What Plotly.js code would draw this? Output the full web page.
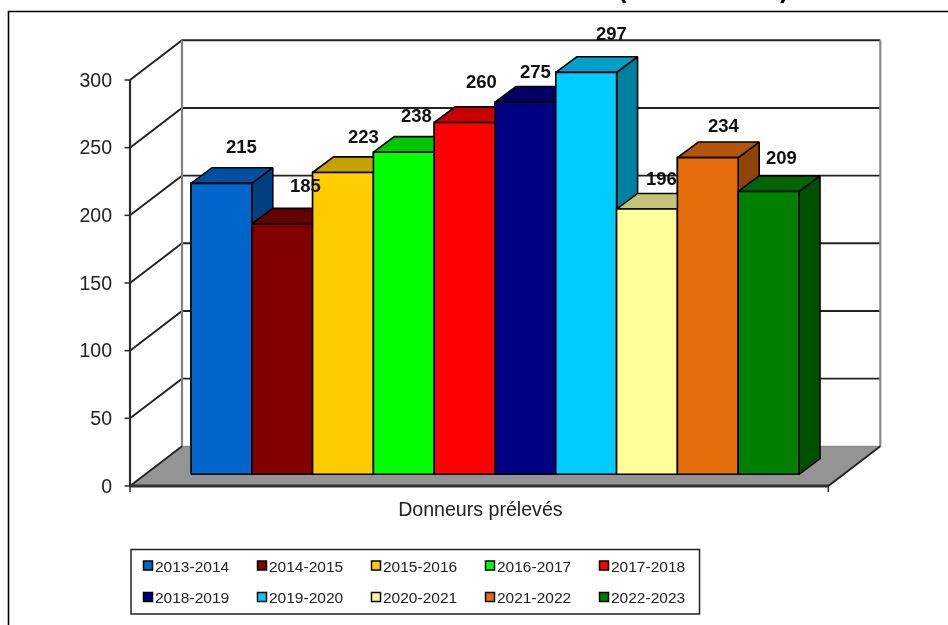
<!DOCTYPE html>
<html><head><meta charset="utf-8">
<script src="https://cdn.plot.ly/plotly-3.0.1.min.js"></script>
<style>html,body{margin:0;padding:0;background:#fff;overflow:hidden}#chart{filter:blur(0.35px)}</style>
</head><body><div id="chart" style="width:948px;height:625px"></div>
<script>
const seasons = ['2013-2014','2014-2015','2015-2016','2016-2017','2017-2018','2018-2019','2019-2020','2020-2021','2021-2022','2022-2023'];
const values = [215,185,223,238,260,275,297,196,234,209];
const frontColors = ['#0066CC','#800000','#FFCC00','#00FF00','#FF0000','#000080','#00CCFF','#FFFF99','#E46C0A','#008000'];
const topColors = ['#00509F','#640000','#C8A000','#00C800','#C80000','#000064','#00A0C8','#C4C478','#B25508','#006400'];
const sideColors = ['#003F80','#500000','#A08000','#00A000','#A00000','#000050','#0080A0','#A0A060','#8F4406','#005000'];
const yTicks = [0,50,100,150,200,250,300];
const categoryLabel = 'Donneurs prélevés';
const labelOffsets = [[20,-36.5],[23,-38.5],[20,-36.5],[13,-36.5],[17,-40.5],[10,-30.5],[25,-38.5],[14,-30.5],[16,-32.5],[13,-33.5]];

// Layout geometry: the plot area is a little larger than the drawn box, as lines clip to it
const L=122, R=886, T=35, B=494, W=948, H=625;
const ux=60.8, uy=406/300;
const xpx=p=>(p-191)/ux, ypx=p=>(486-p)/uy;
const px=p=>(p-L)/(R-L), py=p=>(B-p)/(B-T);
const xL=xpx(130), xFR=xpx(828.3), backX=52/ux, backY=39.7/uy;
const baseY=11.7/uy, barDX=21/ux, barDY=15.6/uy;

const poly=(xs,ys,fill,lc,lw)=>({type:'scatter',mode:'lines',x:xs,y:ys,fill:'toself',fillcolor:fill,
  line:{color:lc,width:lw},showlegend:false,hoverinfo:'skip',cliponaxis:false});
const line=(xs,ys,lc,lw)=>({type:'scatter',mode:'lines',x:xs,y:ys,line:{color:lc,width:lw},
  showlegend:false,hoverinfo:'skip',cliponaxis:false});

const traces=[];
// real bars carry the values and legend entries
seasons.forEach((s,i)=>traces.push({type:'bar',name:s,x:[i+0.5],y:[values[i]],base:[baseY],width:[1],
  marker:{color:frontColors[i],line:{color:'#000',width:1.5}},hoverinfo:'skip',legend:i<5?'legend':'legend2'}));
// gridlines and walls
yTicks.forEach(v=>{ if(v>0) traces.push(line([xL,xL+backX,xFR+backX],[v,v+backY,v+backY],'#222',1.9)); });
traces.push(line([xL+backX,xL+backX],[backY,300+backY],'#808080',2.2));
traces.push(line([xFR+backX,xFR+backX],[backY,300+backY],'#8c8c8c',2.2));
// floor
traces.push(poly([xL,xFR,xFR+backX,xL+backX,xL],[0,0,backY,backY,0],'#949494','rgba(0,0,0,0)',0));
traces.push(line([xL+backX,xFR+backX],[backY,backY],'#808080',1));
traces.push(line([xL+backX,xL,xFR,xFR+backX],[backY,0,0,backY],'#222',1.8));
traces.push(line([xL,xFR],[0,0],'#333',3));
traces.push(line([xL,xL],[0,300],'#2a2a2a',2.2));
traces.push(line([xL,xL],[0,-6/uy],'#2a2a2a',1.5));
traces.push(line([xFR,xFR],[0,-6/uy],'#2a2a2a',1.5));
yTicks.forEach(v=>traces.push(line([xpx(124.5),xL],[v,v],'#2a2a2a',1.5)));
// bars, left to right
values.forEach((v,i)=>{
  const x0=i, x1=i+1, y0=baseY, y1=baseY+v;
  traces.push(poly([x1,x1+barDX,x1+barDX,x1,x1],[y0,y0+barDY,y1+barDY,y1,y0],sideColors[i],'#000',1.6));
  traces.push(poly([x0,x1,x1+barDX,x0+barDX,x0],[y1,y1,y1+barDY,y1+barDY,y1],topColors[i],'#000',1.6));
  traces.push(poly([x0,x1,x1,x0,x0],[y0,y0,y1,y1,y0],frontColors[i],'#000',1.6));
});

const annotations=values.map((v,i)=>({x:i+0.5,y:baseY+v,xref:'x',yref:'y',text:String(v),showarrow:false,
  xshift:labelOffsets[i][0],yshift:-labelOffsets[i][1],
  font:{family:'Liberation Sans',size:18.5,color:'#111',weight:700}}));
// title tails cut off by the page top
[['(',622],[')',791]].forEach(a=>annotations.push({x:px(a[1]),y:py(-27.5),xref:'paper',yref:'paper',text:a[0],showarrow:false,
  font:{family:'Liberation Sans',size:26,color:'#000',weight:700}}));

const shapes=[
 {type:'rect',xref:'paper',yref:'paper',x0:px(8.5),x1:px(970),y0:py(11.5),y1:py(650),line:{color:'#000',width:1.6},layer:'below'},
 {type:'rect',xref:'paper',yref:'paper',x0:px(131),x1:px(699.5),y0:py(549.5),y1:py(614),line:{color:'#222',width:1.5},layer:'below'}
];

const legendBase={orientation:'h',xanchor:'left',yanchor:'middle',bgcolor:'rgba(0,0,0,0)',borderwidth:0,
  font:{family:'Liberation Sans',size:15.5,color:'#222'},entrywidth:69,entrywidthmode:'pixels',itemclick:false,itemdoubleclick:false,tracegroupgap:0};
const layout={width:W,height:H,margin:{l:L,r:W-R,t:T,b:H-B,pad:0,autoexpand:false},paper_bgcolor:'#fff',plot_bgcolor:'rgba(0,0,0,0)',
  barmode:'overlay',showlegend:true,
  xaxis:{range:[xpx(L),xpx(R)],tickvals:[(xL+xFR)/2+0.02],ticktext:[categoryLabel],ticks:'',showgrid:false,zeroline:false,showline:false,
    ticklabelstandoff:1,tickfont:{family:'Liberation Sans',size:19.6,color:'#222'},fixedrange:true},
  yaxis:{range:[ypx(B),ypx(T)],tickvals:yTicks,ticks:'',showgrid:false,zeroline:false,showline:false,
    ticklabelstandoff:9,tickfont:{family:'Liberation Sans',size:19.5,color:'#222'},fixedrange:true},
  legend:Object.assign({},legendBase,{x:px(115),y:py(566)}),
  legend2:Object.assign({},legendBase,{x:px(115),y:py(597.5)}),
  annotations,shapes};
Plotly.newPlot('chart',traces,layout,{displayModeBar:false,staticPlot:true}).then(()=>{
  document.querySelectorAll('.legendsymbols').forEach(g=>g.setAttribute('transform','translate(13,0)'));
  document.querySelectorAll('.legendpoints path').forEach(p=>p.setAttribute('d','M4.5,4.5H-4.5V-4.5H4.5Z'));
});
</script></body></html>
